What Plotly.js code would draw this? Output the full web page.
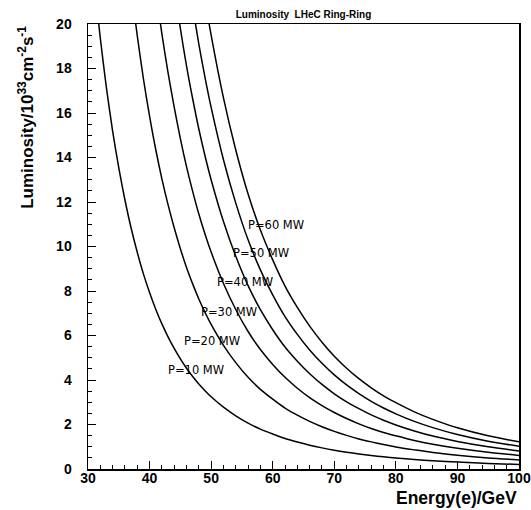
<!DOCTYPE html>
<html>
<head>
<meta charset="utf-8">
<script src="https://cdn.plot.ly/plotly-3.0.1.min.js"></script>
<style>
html,body{margin:0;padding:0;background:#fff;}
#chart{width:531px;height:510px;}
</style>
</head>
<body>
<div id="chart"></div>
<script>
// Energy of electron beam (GeV)
const energy = [30,31,32,33,34,35,36,37,38,39,40,41,42,43,44,45,46,47,48,49,50,52,54,56,58,60,62,64,66,68,70,72,74,76,78,80,83,86,90,95,100];
// Luminosity in 10^33 cm^-2 s^-1 for each power
const lumP10 = [25.06,21.98,19.36,17.12,15.19,13.53,12.09,10.83,9.74,8.77,7.93,7.18,6.52,5.94,5.42,4.95,4.53,4.16,3.82,3.52,3.25,2.78,2.39,2.06,1.79,1.57,1.37,1.21,1.07,0.95,0.845,0.755,0.677,0.608,0.548,0.496,0.428,0.371,0.309,0.249,0.203];
const lumP20 = [50.1,43.96,38.72,34.24,30.38,27.06,24.18,21.66,19.48,17.54,15.86,14.36,13.04,11.88,10.84,9.9,9.06,8.32,7.64,7.04,6.5,5.56,4.78,4.12,3.58,3.14,2.74,2.42,2.14,1.9,1.69,1.51,1.35,1.22,1.1,0.99,0.86,0.74,0.62,0.5,0.41];
const lumP30 = [75.2,65.9,58.1,51.4,45.6,40.6,36.3,32.5,29.2,26.3,23.8,21.54,19.56,17.82,16.26,14.85,13.59,12.48,11.46,10.56,9.75,8.34,7.17,6.18,5.37,4.7,4.12,3.63,3.21,2.85,2.54,2.27,2.03,1.82,1.64,1.49,1.28,1.11,0.93,0.75,0.61];
const lumP40 = [100.2,87.9,77.4,68.5,60.8,54.1,48.4,43.3,39.0,35.1,31.7,28.7,26.1,23.76,21.68,19.8,18.12,16.64,15.28,14.08,13.0,11.12,9.56,8.24,7.16,6.26,5.48,4.84,4.28,3.8,3.38,3.02,2.71,2.43,2.19,1.98,1.71,1.48,1.24,1.0,0.81];
const lumP50 = [125.3,109.9,96.8,85.6,76.0,67.7,60.5,54.2,48.7,43.9,39.7,35.9,32.6,29.7,27.1,24.75,22.65,20.8,19.1,17.6,16.25,13.9,11.95,10.3,8.95,7.83,6.85,6.05,5.35,4.75,4.23,3.78,3.39,3.04,2.74,2.48,2.14,1.86,1.55,1.25,1.02];
const lumP60 = [150.4,131.9,116.2,102.7,91.1,81.2,72.5,65.0,58.4,52.6,47.6,43.1,39.1,35.6,32.5,29.7,27.2,24.96,22.92,21.12,19.5,16.68,14.34,12.36,10.74,9.4,8.22,7.26,6.42,5.7,5.07,4.53,4.06,3.65,3.29,2.98,2.57,2.23,1.85,1.49,1.22];
const seriesNames = ["P=10 MW","P=20 MW","P=30 MW","P=40 MW","P=50 MW","P=60 MW"];
// label anchor positions (energy, luminosity)
const labelX = [42.7,45.3,48.0,50.6,53.2,55.7];
const labelY = [4.44,5.76,7.06,8.39,9.69,10.96];

const allLum = [lumP10,lumP20,lumP30,lumP40,lumP50,lumP60];
const traces = allLum.map((l,i)=>({
  x: energy, y: l, type:'scatter', mode:'lines', name: seriesNames[i],
  line:{color:'#000', width:1.5, shape:'spline', smoothing:0.8},
  hoverinfo:'skip', showlegend:false
}));

const annotations = seriesNames.map((n,i)=>({
  x: labelX[i], y: labelY[i], xref:'x', yref:'y', text:n, showarrow:false,
  xanchor:'left', yanchor:'middle',
  font:{family:'DejaVu Sans, sans-serif', size:11.5, color:'#000'}
}));
annotations.push({
  xref:'paper', yref:'paper', x:-0.143, y:0.79, text:'Luminosity/10<sup>33</sup>cm<sup>-2</sup>s<sup>-1</sup>',
  textangle:-90, showarrow:false, xanchor:'center', yanchor:'middle',
  font:{family:'Liberation Sans, Arial, sans-serif', size:17, color:'#000', weight:'bold'}
});
annotations.push({
  xref:'paper', yref:'paper', x:1.0, y:-0.066, text:'Energy(e)/GeV',
  showarrow:false, xanchor:'right', yanchor:'middle',
  font:{family:'Liberation Sans, Arial, sans-serif', size:17.5, color:'#000', weight:'bold'}
});

const tickFont = {family:'Liberation Sans, Arial, sans-serif', size:14, color:'#000', weight:'bold'};
const layout = {
  width:531, height:510,
  margin:{l:88, r:12, t:24, b:41, pad:0},
  paper_bgcolor:'#fff', plot_bgcolor:'#fff',
  title:{text:'Luminosity  LHeC Ring-Ring', x:0.5, xref:'paper', y:0.972, yanchor:'middle',
    font:{family:'Liberation Sans, Arial, sans-serif', size:10, color:'#000', weight:'bold'}},
  xaxis:{range:[30,100], showgrid:false, zeroline:false, showline:true, linecolor:'#000', linewidth:1.5,
    mirror:true, ticks:'inside', ticklen:8, tickwidth:1, tickcolor:'#000', dtick:10, tick0:30,
    tickfont:tickFont, ticklabelstandoff:-4,
    minor:{ticks:'inside', ticklen:4, dtick:2, tickcolor:'#000', tickwidth:1, showgrid:false}},
  yaxis:{range:[0,20], showgrid:false, zeroline:false, showline:true, linecolor:'#000', linewidth:1.5,
    mirror:true, ticks:'inside', ticklen:8, tickwidth:1, tickcolor:'#000', dtick:2, tick0:0,
    tickfont:tickFont, ticklabelstandoff:12,
    minor:{ticks:'inside', ticklen:4, dtick:0.5, tickcolor:'#000', tickwidth:1, showgrid:false}},
  annotations: annotations,
  showlegend:false
};
Plotly.newPlot('chart', traces, layout, {displayModeBar:false, staticPlot:true});
</script>
</body>
</html>
